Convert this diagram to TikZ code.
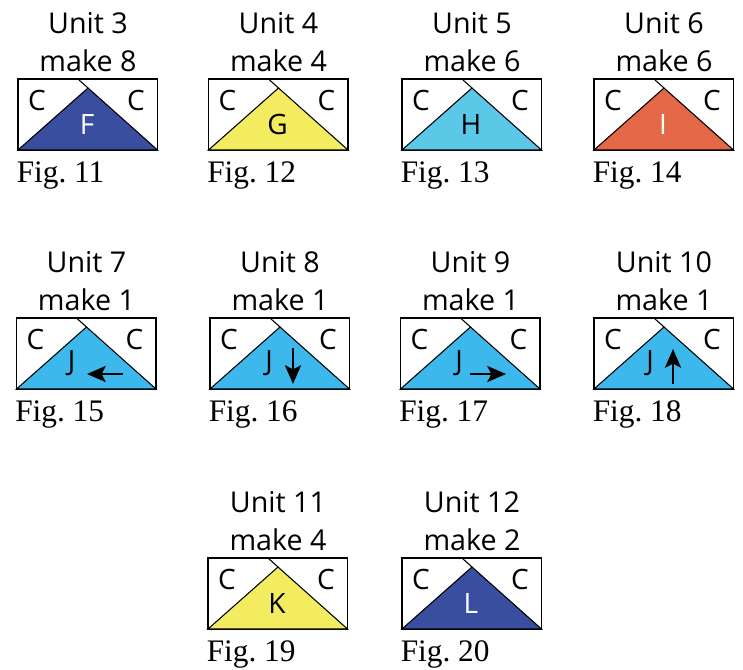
\documentclass[tikz,border=0pt]{standalone}
\usepackage{fontspec}
\setmainfont{Liberation Serif}
\newfontfamily\rotulo{Open Sans}
\usetikzlibrary{arrows.meta}
\definecolor{AzulF}{RGB}{57,78,158}
\definecolor{AmarilloG}{RGB}{243,235,96}
\definecolor{CianH}{RGB}{92,200,232}
\definecolor{RojoI}{RGB}{228,104,72}
\definecolor{CianJ}{RGB}{60,184,236}
\tikzset{
  unitlabel/.style={font=\rotulo\fontsize{21.5}{21.5}\selectfont,anchor=base,inner sep=0pt},
  letterlabel/.style={font=\rotulo\fontsize{21}{21}\selectfont,inner sep=0pt},
  figlabel/.style={font=\frenchspacing\fontsize{23.5}{23.5}\selectfont,anchor=base west,inner sep=0pt},
  blockline/.style={draw=black,line width=0.8pt},
  movearrow/.style={-{Stealth[length=14pt,width=12pt,inset=3pt]},line width=2pt}
}
% #1 left, #2 top, #3 fill, #4 letter colour, #5 letter, #6 letter x, #7 unit, #8 make, #9 figure
\newcommand{\UnitBlock}[9]{
  \begin{scope}[shift={(#1,#2)}]
    \coordinate (nw#9) at (0,0);
    \coordinate (se#9) at (139.5,71);
    \coordinate (sw#9) at (0,71);
    \coordinate (apex#9) at (70,9);
    \draw[blockline] (nw#9) rectangle (se#9);
    \filldraw[blockline,fill=#3] (sw#9)--(apex#9)--(se#9)--cycle;
    \draw[blockline] (apex#9)--(60,0);
    \node[letterlabel] (cl#9) at (19,21) {C};
    \node[letterlabel] (cr#9) at (118,21) {C};
    \node[letterlabel,text=#4] (letter#9) at (#6,45) {#5};
    \node[unitlabel] (unit#9) at (70,-46) {Unit #7};
    \node[unitlabel] (make#9) at (70,-8) {make #8};
    \node[figlabel] (fig#9) at (-1.5,103) {Fig. #9};
  \end{scope}
}

\begin{document}
\begin{tikzpicture}[>=Latex,x=0.75pt,y=-0.75pt]
  \useasboundingbox (0,0) rectangle (743,669);
  % first row
  \UnitBlock{18}{79}{AzulF}{white}{F}{69}{3}{8}{11}
  \UnitBlock{208.5}{79}{AmarilloG}{black}{G}{69}{4}{4}{12}
  \UnitBlock{402}{79}{CianH}{black}{H}{69}{5}{6}{13}
  \UnitBlock{594}{79}{RojoI}{white}{I}{69}{6}{6}{14}
  % second row
  \UnitBlock{16.5}{318}{CianJ}{black}{J}{55}{7}{1}{15}
  \UnitBlock{210}{318}{CianJ}{black}{J}{59}{8}{1}{16}
  \UnitBlock{400.5}{318}{CianJ}{black}{J}{58.5}{9}{1}{17}
  \UnitBlock{594}{318}{CianJ}{black}{J}{56}{10}{1}{18}
  % third row
  \UnitBlock{208}{558}{AmarilloG}{black}{K}{69}{11}{4}{19}
  \UnitBlock{402}{558}{AzulF}{white}{L}{69}{12}{2}{20}
  % arrows
  \coordinate (from15) at (123,374);
  \coordinate (to15) at (87,374);
  \coordinate (from16) at (293,348);
  \coordinate (to16) at (293,384);
  \coordinate (from17) at (470,374);
  \coordinate (to17) at (506,374);
  \coordinate (from18) at (673,384);
  \coordinate (to18) at (673,349);
  \draw[movearrow] (from15)--(to15);
  \draw[movearrow] (from16)--(to16);
  \draw[movearrow] (from17)--(to17);
  \draw[movearrow] (from18)--(to18);
\end{tikzpicture}
\end{document}
